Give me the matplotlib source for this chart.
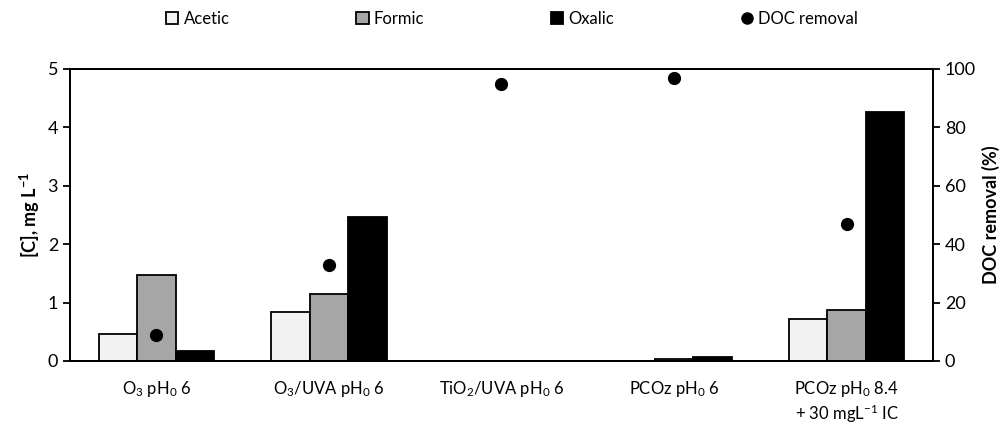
import numpy as np
import matplotlib
matplotlib.use('Agg')
from matplotlib import pyplot as plt
from matplotlib.lines import Line2D
from matplotlib.patches import Patch

plt.rcParams['font.family'] = ['Lato', 'DejaVu Sans']
plt.rcParams['mathtext.default'] = 'regular'

categories = ['O$_3$ pH$_0$ 6', 'O$_3$/UVA pH$_0$ 6', 'TiO$_2$/UVA pH$_0$ 6',
              'PCOz pH$_0$ 6', 'PCOz pH$_0$ 8.4\n+ 30 mgL$^{-1}$ IC']
acetic = [0.46, 0.84, 0.0, 0.0, 0.72]
formic = [1.48, 1.14, 0.0, 0.03, 0.87]
oxalic = [0.17, 2.46, 0.0, 0.07, 4.27]
doc_removal = [9, 33, 95, 97, 47]

fig = plt.figure(figsize=(10.04, 4.24), dpi=100)
ax = fig.add_axes([0.0697, 0.1486, 0.8595, 0.6887])
x = np.arange(len(categories))
w = 0.223

ax.bar(x - w, acetic, w, color='#f2f2f2', edgecolor='black', linewidth=1.3, label='Acetic')
ax.bar(x, formic, w, color='#a6a6a6', edgecolor='black', linewidth=1.3, label='Formic')
ax.bar(x + w, oxalic, w, color='black', edgecolor='black', linewidth=1.3, label='Oxalic')
ax.set_xlim(-0.5, 4.5)
ax.set_ylim(0, 5)
ax.set_xticks(x)
ax.set_xticklabels(categories, fontsize=12)
ax.tick_params(axis='x', length=0, pad=13)
ax.tick_params(axis='y', labelsize=13, length=5, width=1.3, direction='out')
ax.set_ylabel('[C], mg L$^{-1}$', fontsize=13, fontweight='bold')
for s in ax.spines.values():
    s.set_linewidth(1.3)

ax2 = ax.twinx()
ax2.plot(x, doc_removal, 'o', color='black', markersize=8.5, linestyle='none')
ax2.set_ylim(0, 100)
ax2.set_yticks([0, 20, 40, 60, 80, 100])
ax2.tick_params(axis='y', labelsize=13, length=5, width=1.3, direction='out')
ax2.set_ylabel('DOC removal (%)', fontsize=13, fontweight='bold')
for s in ax2.spines.values():
    s.set_linewidth(1.3)

handles = [Patch(facecolor='#f2f2f2', edgecolor='black', linewidth=1.3),
           Patch(facecolor='black', edgecolor='black', linewidth=1.3),
           Line2D([], [], marker='o', color='black', linestyle='none', markersize=8)]
handles.insert(1, Patch(facecolor='#a6a6a6', edgecolor='black', linewidth=1.3))
fig.legend(handles, ['Acetic', 'Formic', 'Oxalic', 'DOC removal'], ncol=4,
           loc='center', bbox_to_anchor=(0.51, 0.955), frameon=False, fontsize=12,
           handlelength=0.75, handleheight=0.75, handletextpad=0.3, columnspacing=7.6)

fig.savefig('out.png', dpi=100)
